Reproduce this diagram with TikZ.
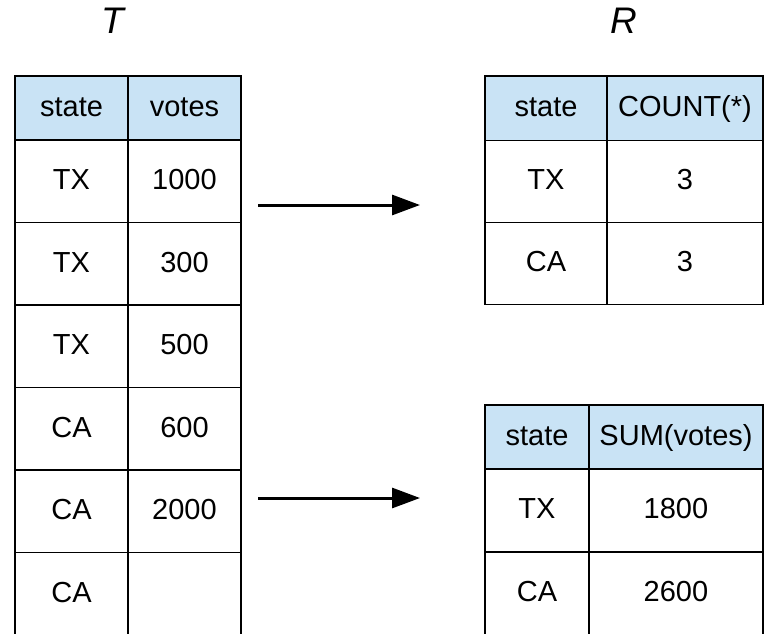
\documentclass[tikz,border=0pt]{standalone}
\usepackage{fontspec}
\setmainfont{Liberation Sans}
\usetikzlibrary{positioning,arrows.meta}
\definecolor{headblue}{RGB}{201,227,245}

\begin{document}
\begin{tikzpicture}[x=1pt,y=-1pt,
        cellbox/.style={rectangle, draw=black, line width=1.7pt, inner sep=0pt, outer sep=0pt, text height=20.8pt, text depth=4pt, font=\fontsize{29}{33}\selectfont},
        headbox/.style={cellbox, fill=headblue},
        titlenode/.style={font=\fontsize{37}{40}\selectfont\itshape},
        arrowline/.style={line width=3pt, -{Triangle[length=28pt,width=20pt]}}]
        \clip (0,0) rectangle (769,633);
        % input table T
        \node[titlenode] (tname) at (113,21) {T};
        \node[headbox, minimum width=113, minimum height=64, anchor=north west] (tstate) at (15,76) {state};
        \node[headbox, minimum width=113, minimum height=64] (tvotes) [right=0pt of tstate] {votes};
        \node[cellbox, minimum width=113, minimum height=82.5] (ts1) [below=0pt of tstate] {TX};
        \node[cellbox, minimum width=113, minimum height=82.5] (tv1) [right=0pt of ts1] {1000};
        \node[cellbox, minimum width=113, minimum height=82.5] (ts2) [below=0pt of ts1] {TX};
        \node[cellbox, minimum width=113, minimum height=82.5] (tv2) [right=0pt of ts2] {300};
        \node[cellbox, minimum width=113, minimum height=82.5] (ts3) [below=0pt of ts2] {TX};
        \node[cellbox, minimum width=113, minimum height=82.5] (tv3) [right=0pt of ts3] {500};
        \node[cellbox, minimum width=113, minimum height=82.5] (ts4) [below=0pt of ts3] {CA};
        \node[cellbox, minimum width=113, minimum height=82.5] (tv4) [right=0pt of ts4] {600};
        \node[cellbox, minimum width=113, minimum height=82.5] (ts5) [below=0pt of ts4] {CA};
        \node[cellbox, minimum width=113, minimum height=82.5] (tv5) [right=0pt of ts5] {2000};
        \node[cellbox, minimum width=113, minimum height=82.5] (ts6) [below=0pt of ts5] {CA};
        \node[cellbox, minimum width=113, minimum height=82.5] (tv6) [right=0pt of ts6] {};
        % result R with COUNT
        \node[titlenode] (rname) at (624,21) {R};
        \node[headbox, minimum width=122, minimum height=64.5, anchor=north west] (cstate) at (485,76) {state};
        \node[headbox, minimum width=156, minimum height=64.5] (ccount) [right=0pt of cstate] {COUNT(*)};
        \node[cellbox, minimum width=122, minimum height=82] (cs1) [below=0pt of cstate] {TX};
        \node[cellbox, minimum width=156, minimum height=82] (cc1) [right=0pt of cs1] {3};
        \node[cellbox, minimum width=122, minimum height=82] (cs2) [below=0pt of cs1] {CA};
        \node[cellbox, minimum width=156, minimum height=82] (cc2) [right=0pt of cs2] {3};
        % result with SUM
        \node[headbox, minimum width=104, minimum height=64, anchor=north west] (sstate) at (485,405) {state};
        \node[headbox, minimum width=174, minimum height=64] (ssum) [right=0pt of sstate] {SUM(votes)};
        \node[cellbox, minimum width=104, minimum height=83] (ss1) [below=0pt of sstate] {TX};
        \node[cellbox, minimum width=174, minimum height=83] (sv1) [right=0pt of ss1] {1800};
        \node[cellbox, minimum width=104, minimum height=83] (ss2) [below=0pt of ss1] {CA};
        \node[cellbox, minimum width=174, minimum height=83] (sv2) [right=0pt of ss2] {2600};
        % arrows
        \coordinate (countfrom) at (258,205);
        \coordinate (countto) at (420,205);
        \coordinate (sumfrom) at (258,498);
        \coordinate (sumto) at (420,498);
        \draw[arrowline] (countfrom) -- (countto);
        \draw[arrowline] (sumfrom) -- (sumto);
\end{tikzpicture}
\end{document}
